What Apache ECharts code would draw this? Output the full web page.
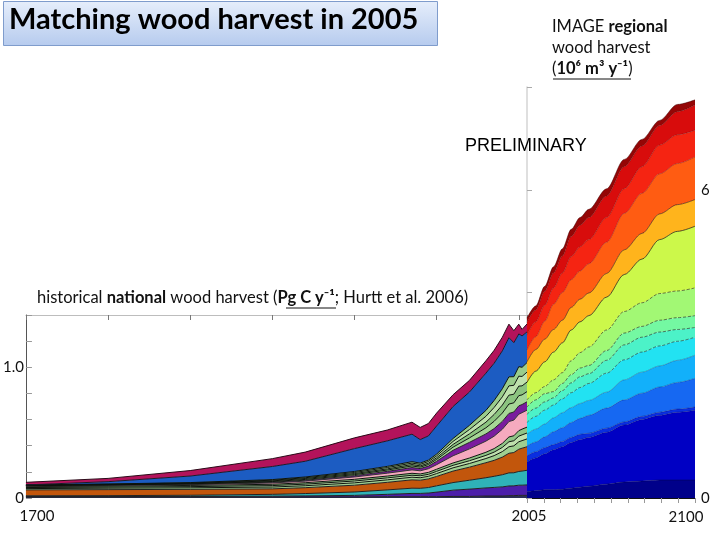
<!DOCTYPE html>
<html><head><meta charset="utf-8">
<script src="https://cdn.jsdelivr.net/npm/echarts@6/dist/echarts.min.js"></script>
<style>html,body{margin:0;padding:0;background:#fff}#c{width:720px;height:540px}</style>
</head><body><div id="c"></div>
<script>
// ---------- historical national wood harvest (Pg C / yr), stacked layers bottom -> top ----------
const histYears = [1700,1750,1800,1850,1870,1900,1920,1935,1940,1945,1950,1960,1970,1980,1985,1990,1994,1997,2000,2002,2005];
const hNavy    = [0.008,0.008,0.008,0.008,0.008,0.008,0.01,0.01,0.01,0.01,0.01,0.012,0.012,0.015,0.015,0.015,0.018,0.018,0.02,0.02,0.02];
const hViolet  = [0.003,0.003,0.004,0.006,0.008,0.012,0.018,0.025,0.025,0.028,0.035,0.048,0.056,0.062,0.066,0.07,0.074,0.075,0.078,0.078,0.08];
const hCyan    = [0.006,0.007,0.009,0.014,0.018,0.026,0.034,0.04,0.039,0.042,0.048,0.058,0.068,0.078,0.085,0.093,0.1,0.1,0.105,0.108,0.112];
const hOrange  = [0.045,0.046,0.045,0.042,0.045,0.052,0.058,0.064,0.062,0.066,0.072,0.088,0.1,0.115,0.122,0.135,0.15,0.155,0.17,0.175,0.18];
const hGreenA1 = [0.01,0.011,0.012,0.014,0.015,0.018,0.019,0.02,0.019,0.02,0.022,0.025,0.028,0.032,0.036,0.042,0.05,0.051,0.057,0.058,0.06];
const hGreenA2 = [0.008,0.008,0.009,0.011,0.012,0.014,0.015,0.015,0.015,0.015,0.017,0.019,0.021,0.024,0.027,0.032,0.038,0.039,0.043,0.044,0.045];
const hGreenA3 = [0.007,0.008,0.009,0.01,0.011,0.013,0.014,0.015,0.014,0.015,0.016,0.018,0.021,0.024,0.027,0.031,0.037,0.038,0.042,0.044,0.045];
const hPink    = [0.004,0.005,0.006,0.01,0.012,0.018,0.022,0.026,0.024,0.028,0.035,0.055,0.07,0.085,0.095,0.108,0.118,0.12,0.126,0.126,0.13];
const hPurple  = [0.003,0.003,0.004,0.006,0.007,0.01,0.014,0.018,0.017,0.02,0.026,0.042,0.05,0.055,0.058,0.06,0.062,0.062,0.064,0.062,0.064];
const hGreenB1 = [0.002,0.002,0.003,0.005,0.006,0.008,0.01,0.012,0.011,0.012,0.014,0.024,0.034,0.047,0.056,0.064,0.072,0.07,0.078,0.074,0.078];
const hGreenB2 = [0.001,0.002,0.003,0.005,0.007,0.008,0.009,0.011,0.01,0.011,0.013,0.021,0.031,0.043,0.052,0.061,0.068,0.066,0.073,0.069,0.073];
const hGreenB3 = [0.002,0.002,0.003,0.005,0.006,0.008,0.01,0.011,0.011,0.012,0.014,0.023,0.033,0.045,0.054,0.063,0.071,0.068,0.076,0.072,0.076];
const hGreenB4 = [0.001,0.002,0.003,0.005,0.006,0.008,0.009,0.011,0.01,0.011,0.014,0.022,0.032,0.045,0.053,0.062,0.069,0.066,0.073,0.07,0.073];
const hBlue    = [0,0.018,0.05,0.1,0.12,0.175,0.195,0.21,0.18,0.185,0.215,0.245,0.255,0.285,0.285,0.29,0.3,0.26,0.25,0.24,0.235];
const hCrimson = [0.02,0.025,0.042,0.06,0.07,0.082,0.083,0.092,0.093,0.095,0.099,0.09,0.089,0.095,0.099,0.104,0.103,0.092,0.075,0.05,0.06];

// ---------- IMAGE regional wood harvest (10^6 m3 / yr), stacked layers bottom -> top ----------
const imgYears = [2005,2010,2015,2020,2025,2030,2035,2040,2050,2060,2070,2080,2090,2100];
const r01 = [0.12,0.14,0.16,0.16,0.17,0.19,0.21,0.23,0.27,0.31,0.33,0.35,0.35,0.35];
const r02 = [0.58,0.64,0.70,0.78,0.83,0.89,0.93,0.95,1.01,1.11,1.20,1.26,1.32,1.36];
const r03 = [0.12,0.12,0.12,0.10,0.10,0.10,0.10,0.08,0.08,0.06,0.06,0.06,0.06,0.06];
const r04 = [0.19,0.19,0.21,0.25,0.27,0.29,0.31,0.35,0.39,0.43,0.45,0.49,0.52,0.56];
const r05 = [0.23,0.25,0.25,0.27,0.29,0.29,0.29,0.29,0.31,0.39,0.41,0.41,0.43,0.45];
const r06 = [0.23,0.25,0.27,0.25,0.27,0.29,0.31,0.33,0.37,0.39,0.39,0.39,0.37,0.35];
const r07 = [0.16,0.16,0.16,0.14,0.16,0.19,0.21,0.19,0.25,0.29,0.29,0.27,0.23,0.19];
const r08 = [0.14,0.16,0.16,0.12,0.14,0.16,0.17,0.16,0.19,0.23,0.21,0.23,0.23,0.23];
const r09 = [0.14,0.14,0.14,0.23,0.21,0.27,0.30,0.36,0.40,0.42,0.46,0.52,0.52,0.54];
const r10 = [0.34,0.42,0.48,0.54,0.58,0.60,0.60,0.61,0.64,0.72,0.85,1.05,1.16,1.20];
const r11 = [0.40,0.42,0.44,0.44,0.44,0.44,0.44,0.44,0.46,0.48,0.50,0.50,0.52,0.52];
const r12 = [0.23,0.25,0.35,0.49,0.54,0.54,0.55,0.57,0.61,0.71,0.78,0.78,0.80,0.83];
const r13 = [0.29,0.29,0.31,0.32,0.38,0.45,0.47,0.47,0.48,0.48,0.52,0.56,0.56,0.52];
const r14 = [0.25,0.23,0.27,0.29,0.33,0.39,0.42,0.43,0.42,0.43,0.40,0.38,0.45,0.49];
const r15 = [0.08,0.08,0.10,0.12,0.14,0.14,0.15,0.16,0.14,0.14,0.13,0.10,0.14,0.10];

// ---------- tick labels ----------
const histYLabelValues = [0, 1.0];
const histXLabelValues = [1700, 2005];
const imgYLabelValues = [0, 6];
const imgXLabelValues = [2100];

const FONT = 'Lato, "Open Sans", sans-serif';
const yr = y => Date.UTC(y, 0, 1);

const histLayers = [
  [hNavy, '#2b2f55', '#222'],
  [hViolet, '#4c1eaa', '#222'],
  [hCyan, '#2fb2b8', '#222'],
  [hOrange, '#c2560c', '#222'],
  [hGreenA1, '#9fcf90', '#0d140d'],
  [hGreenA2, '#bfe0ad', '#0d140d'],
  [hGreenA3, '#8fc486', '#0d140d'],
  [hPink, '#f6aabf', '#333'],
  [hPurple, '#7a1c9e', '#222'],
  [hGreenB1, '#a6d696', '#0d140d'],
  [hGreenB2, '#8cc480', '#0d140d'],
  [hGreenB3, '#bfe2ad', '#0d140d'],
  [hGreenB4, '#9acd8c', '#0d140d'],
  [hBlue, '#1c5cc2', '#1a1a2a'],
  [hCrimson, '#b3135b', '#2a0a18']
];
const imgLayers = [
  [r01, '#00008a', 'rgba(0,0,60,0.5)', 'solid'],
  [r02, '#0000c4', 'rgba(0,0,60,0.4)', 'solid'],
  [r03, '#0a2ee0', 'rgba(0,0,60,0.4)', 'solid'],
  [r04, '#1668f2', 'rgba(0,0,60,0.35)', 'solid'],
  [r05, '#12b0fa', 'rgba(0,0,60,0.35)', 'solid'],
  [r06, '#22e2f2', 'rgba(0,0,0,0.6)', 'dashed'],
  [r07, '#4cf2c8', 'rgba(0,0,0,0.65)', 'dashed'],
  [r08, '#74f8a2', 'rgba(0,0,0,0.65)', 'dashed'],
  [r09, '#a2f874', 'rgba(0,0,0,0.65)', 'dashed'],
  [r10, '#ccf84a', 'rgba(0,0,0,0.8)', 'solid'],
  [r11, '#ffb41c', 'rgba(0,0,0,0.6)', 'solid'],
  [r12, '#ff5c12', 'rgba(80,0,0,0.4)', 'solid'],
  [r13, '#f52412', 'rgba(80,0,0,0.4)', 'solid'],
  [r14, '#d80c0c', 'rgba(80,0,0,0.4)', 'solid'],
  [r15, '#940606', 'rgba(60,0,0,0.6)', 'solid']
];

const series = [];
histLayers.forEach(([vals, col, lc]) => {
  series.push({
    type: 'line', stack: 'hist', xAxisIndex: 4, yAxisIndex: 0,
    data: histYears.map((y, k) => [yr(y), vals[k]]),
    showSymbol: false, symbol: 'none',
    lineStyle: { width: 1, color: lc },
    areaStyle: { color: col, opacity: 1 }
  });
});
imgLayers.forEach(([vals, col, lc, lt]) => {
  series.push({
    type: 'line', stack: 'img', xAxisIndex: 5, yAxisIndex: 1,
    data: imgYears.map((y, k) => [yr(y), vals[k]]),
    showSymbol: false, symbol: 'none', smooth: 0.3, smoothMonotone: 'x',
    lineStyle: { width: 0.8, color: lc, type: lt },
    areaStyle: { color: col, opacity: 1 }
  });
});

const hiddenAxis = { show: false, splitLine: { show: false } };

const chart = echarts.init(document.getElementById('c'), null, { renderer: 'canvas' });
chart.setOption({
  animation: false,
  backgroundColor: '#fff',
  textStyle: { fontFamily: FONT },
  grid: [
    { left: 24, right: 193, top: 315, bottom: 42 },
    { left: 527, right: 25, top: 87, bottom: 42 }
  ],
  xAxis: [
    { gridIndex: 0, type: 'value', min: 1700, max: 2005, position: 'bottom',
      axisLine: { show: false }, axisTick: { show: false }, splitLine: { show: false },
      axisLabel: { customValues: histXLabelValues, margin: 11, color: '#111', fontSize: 15, fontFamily: FONT,
        formatter: v => v === 1700 ? '{a|' + v + '}' : '{c|' + v + '}',
        rich: { a: { padding: [0, 0, 0, 22], fontSize: 15, fontFamily: FONT, color: '#111' },
                c: { padding: [0, 0, 0, 4], fontSize: 15, fontFamily: FONT, color: '#111' } } } },
    { gridIndex: 0, type: 'value', min: 0, max: 305, interval: 50, position: 'top',
      axisLine: { show: true, lineStyle: { color: '#bdbdbd', width: 1 } },
      axisTick: { show: true, inside: true, length: 5, lineStyle: { color: '#777' } },
      axisLabel: { show: false }, splitLine: { show: false } },
    { gridIndex: 1, type: 'value', min: 2005, max: 2100, position: 'bottom',
      axisLine: { show: false }, axisTick: { show: false }, splitLine: { show: false },
      axisLabel: { customValues: imgXLabelValues, margin: 12, color: '#111', fontSize: 15, fontFamily: FONT,
        formatter: v => '{b|' + v + '}',
        rich: { b: { padding: [0, 18, 0, 0], fontSize: 15, fontFamily: FONT, color: '#111' } } } },
    { gridIndex: 1, type: 'value', min: 0, max: 10, interval: 1, position: 'top',
      axisLine: { show: true, lineStyle: { color: '#111', width: 1 } },
      axisTick: { show: true, inside: true, length: 5, lineStyle: { color: '#999' } },
      axisLabel: { show: false }, splitLine: { show: false } },
    Object.assign({ gridIndex: 0, type: 'time', min: yr(1700), max: yr(2005) }, hiddenAxis),
    Object.assign({ gridIndex: 1, type: 'time', min: yr(2005), max: yr(2100) }, hiddenAxis)
  ],
  yAxis: [
    { gridIndex: 0, type: 'value', min: 0, max: 1.4, interval: 0.2, position: 'left',
      axisLine: { show: true, lineStyle: { color: '#555', width: 1 } },
      axisTick: { show: true, inside: true, length: 6, lineStyle: { color: '#999' } },
      splitLine: { show: false },
      axisLabel: { customValues: histYLabelValues, margin: 2, color: '#111', fontSize: 15, fontFamily: FONT,
        formatter: v => v === 0 ? '0' : v.toFixed(1) } },
    { gridIndex: 1, type: 'value', min: 0, max: 8, interval: 2, position: 'left',
      axisLine: { show: true, lineStyle: { color: '#d4d4d4', width: 1.5 } },
      axisTick: { show: true, inside: true, length: 5, lineStyle: { color: '#aaa' } },
      splitLine: { show: false }, axisLabel: { show: false } },
    { gridIndex: 1, type: 'value', min: 0, max: 8, position: 'right',
      axisLine: { show: false }, axisTick: { show: false }, splitLine: { show: false },
      axisLabel: { customValues: imgYLabelValues, margin: 6, color: '#111', fontSize: 15, fontFamily: FONT } }
  ],
  series: series,
  graphic: [
    { type: 'rect', left: 3, top: 1, z: 100,
      shape: { width: 434, height: 44 },
      style: { fill: new echarts.graphic.LinearGradient(0, 0, 0, 1, [
        { offset: 0, color: '#e6eefb' }, { offset: 1, color: '#b6cbee' }]),
        stroke: '#7f9ccc', lineWidth: 1 } },
    { type: 'text', left: 9, top: 5, z: 101,
      style: { text: 'Matching wood harvest in 2005', font: 'bold 29px ' + FONT, fill: '#000' } },
    { type: 'text', left: 552, top: 16, z: 101,
      style: { text: 'IMAGE {b|regional}\nwood harvest\n({b|10⁶ m³ y⁻¹})',
        font: '16.5px ' + FONT, fill: '#111', lineHeight: 21,
        rich: { b: { fontWeight: 'bold', fontSize: 16.5, fontFamily: FONT, fill: '#111', lineHeight: 21 } } } },
    { type: 'line', z: 101, shape: { x1: 553, y1: 79, x2: 631, y2: 79 }, style: { stroke: '#111', lineWidth: 1 } },
    { type: 'text', left: 465, top: 137, z: 101,
      style: { text: 'PRELIMINARY', font: '18px "Liberation Sans", Arial, sans-serif', fill: '#000' } },
    { type: 'text', left: 37, top: 289, z: 101,
      style: { text: 'historical {b|national} wood harvest ({b|Pg C y⁻¹}; Hurtt et al. 2006)',
        font: '16.5px ' + FONT, fill: '#111',
        rich: { b: { fontWeight: 'bold', fontSize: 16.5, fontFamily: FONT, fill: '#111' } } } },
    { type: 'line', z: 101, shape: { x1: 286, y1: 308, x2: 336, y2: 308 }, style: { stroke: '#111', lineWidth: 1 } }
  ]
});
</script>
</body></html>
